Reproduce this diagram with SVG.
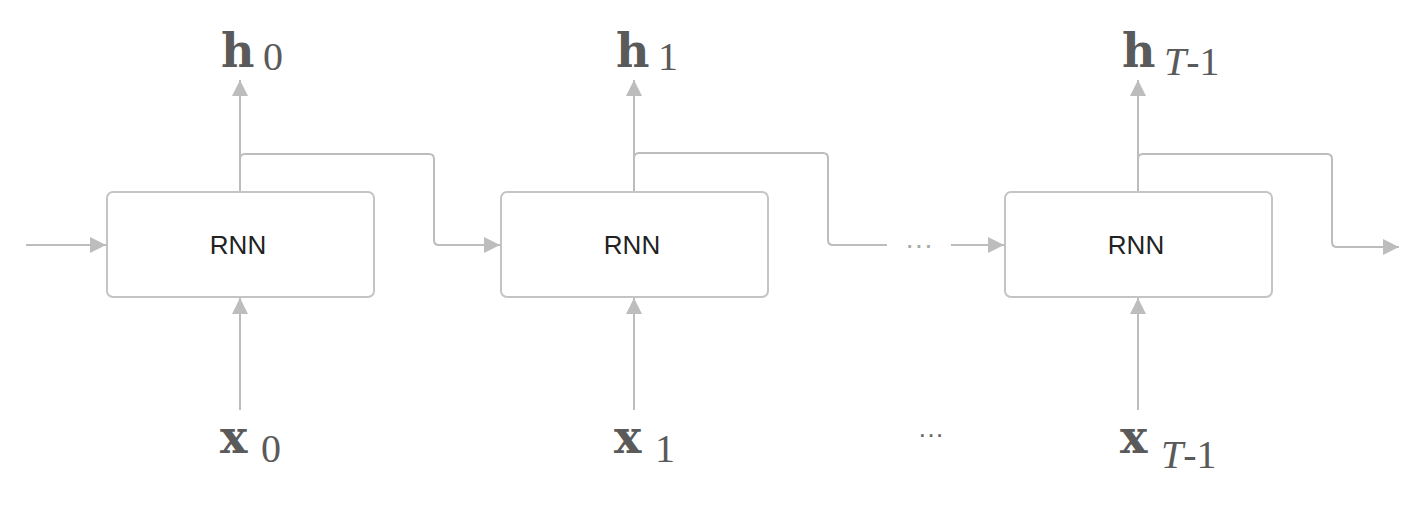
<svg xmlns="http://www.w3.org/2000/svg" width="1428" height="528" viewBox="0 0 1428 528">
<style>
.box{fill:#fff;stroke:#c4c4c4;stroke-width:2}
.lbl{font-family:"Liberation Sans",Arial,sans-serif;font-size:26px;fill:#222;text-anchor:middle}
.c{fill:none;stroke:#bdbdbd;stroke-width:2}
.v{font-family:"DejaVu Serif",serif;font-weight:bold;font-size:46px;fill:#5a5a5a}
.s{font-family:"Liberation Serif","DejaVu Serif",serif;font-size:40px;fill:#5a5a5a;font-weight:normal}
.i{font-style:italic}
.dots{font-family:"Liberation Sans",sans-serif;font-size:28px;fill:#a8a8a8}
.dots2{font-family:"Liberation Sans",sans-serif;font-size:26px;fill:#666}
</style>
<defs>
<marker id="a" viewBox="0 0 16 16" refX="16" refY="8" markerWidth="16" markerHeight="16" markerUnits="userSpaceOnUse" orient="auto">
<path d="M0,0 L16,8 L0,16 z" fill="#bdbdbd"/>
</marker>
</defs>
<g id="connectors">
<path class="c" d="M26,245 H106" marker-end="url(#a)"/>
<path class="c" d="M240,192 V80" marker-end="url(#a)"/>
<path class="c" d="M240,160 V159 Q240,154 245,154 H429 Q434,154 434,159 V240 Q434,245 439,245 H500" marker-end="url(#a)"/>
<path class="c" d="M240,410 V298" marker-end="url(#a)"/>
<path class="c" d="M634,192 V80" marker-end="url(#a)"/>
<path class="c" d="M634,160 V158 Q634,153 639,153 H823 Q828,153 828,158 V240 Q828,245 833,245 H887"/>
<path class="c" d="M951,245 H1004" marker-end="url(#a)"/>
<path class="c" d="M634,410 V298" marker-end="url(#a)"/>
<path class="c" d="M1138,192 V80" marker-end="url(#a)"/>
<path class="c" d="M1138,160 V159 Q1138,154 1143,154 H1327 Q1332,154 1332,159 V242 Q1332,247 1337,247 H1399" marker-end="url(#a)"/>
<path class="c" d="M1138,410 L1138,298" marker-end="url(#a)"/>
<text class="dots" x="905" y="254">···</text>
</g>
<g id="rnn0"><rect class="box" x="107" y="192" width="267" height="105" rx="6"/><text class="lbl" x="238" y="254">RNN</text></g>
<g id="rnn1"><rect class="box" x="501" y="192" width="267" height="105" rx="6"/><text class="lbl" x="632" y="254">RNN</text></g>
<g id="rnn2"><rect class="box" x="1005" y="192" width="267" height="105" rx="6"/><text class="lbl" x="1136" y="254">RNN</text></g>
<g id="h0"><text class="v" x="221" y="67">h<tspan class="s" x="263" y="70">0</tspan></text></g>
<g id="h1"><text class="v" x="616" y="67">h<tspan class="s" x="658" y="70">1</tspan></text></g>
<g id="hT"><text class="v" x="1122" y="67">h<tspan class="s i" x="1164" y="75">T</tspan><tspan class="s" y="75">-1</tspan></text></g>
<g id="x0"><text class="v" x="220" y="453">x<tspan class="s" x="261" y="462">0</tspan></text></g>
<g id="x1"><text class="v" x="614" y="453">x<tspan class="s" x="655" y="462">1</tspan></text></g>
<g id="xdots"><text class="dots2" x="918" y="443">···</text></g>
<g id="xT"><text class="v" x="1120" y="453">x<tspan class="s i" x="1161" y="468">T</tspan><tspan class="s" y="468">-1</tspan></text></g>
</svg>
